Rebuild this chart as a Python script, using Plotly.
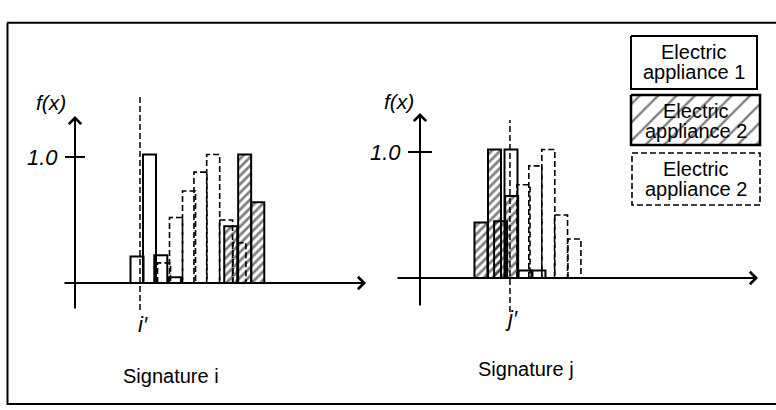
import plotly.graph_objects as go

W, H = 776, 410
FONT = "Liberation Sans, Arial, sans-serif"

# ---------------- data (bin centres in bin units, f(x) values) ----------------
# Signature i
sig_i_app1_x = [4.77, 5.73, 6.60, 7.65]
sig_i_app1_y = [0.21, 1.02, 0.22, 0.045]
sig_i_app2_x = [11.98, 13.05, 14.06]
sig_i_app2_y = [0.45, 1.02, 0.64]
sig_i_app3_x = [6.85, 7.77, 8.77, 9.65, 10.63, 11.62, 12.65]
sig_i_app3_y = [0.16, 0.52, 0.73, 0.88, 1.02, 0.50, 0.32]

# Signature j
sig_j_app1_x = [7.00, 8.08, 9.15]
sig_j_app1_y = [1.02, 0.06, 0.06]
sig_j_app2_x = [4.69, 5.73, 6.20, 7.05]
sig_j_app2_y = [0.44, 1.02, 0.45, 0.65]
sig_j_app3_x = [7.96, 8.87, 9.87, 10.85, 11.88]
sig_j_app3_y = [0.74, 0.89, 1.02, 0.50, 0.31]

i_prime = 5.0
j_prime = 6.92
tick_value = 1.0
tick_label = "1.0"
legend_labels = [("Electric", "appliance 1"), ("Electric", "appliance 2"), ("Electric", "appliance 2")]
panel_titles = ["Signature i", "Signature j"]

BW = 1.0  # bin width


def outline(xs, ys, w=BW):
    X, Y = [], []
    for x, y in zip(xs, ys):
        X += [x - w / 2, x - w / 2, x + w / 2, x + w / 2, None]
        Y += [0, y, y, 0, None]
    return X, Y


fig = go.Figure()

panels = [
    ("x", "y", sig_i_app1_x, sig_i_app1_y, sig_i_app2_x, sig_i_app2_y, sig_i_app3_x, sig_i_app3_y),
    ("x2", "y2", sig_j_app1_x, sig_j_app1_y, sig_j_app2_x, sig_j_app2_y, sig_j_app3_x, sig_j_app3_y),
]
for xa, ya, a1x, a1y, a2x, a2y, a3x, a3y in panels:
    dx, dy = outline(a3x, a3y)
    fig.add_trace(go.Scatter(x=dx, y=dy, mode="lines", xaxis=xa, yaxis=ya,
                             line=dict(color="black", width=1.6, dash="6px,3px"),
                             hoverinfo="skip", showlegend=False))
    fig.add_trace(go.Bar(x=a1x, y=a1y, width=BW, xaxis=xa, yaxis=ya,
                         marker=dict(color="rgba(0,0,0,0)", line=dict(color="black", width=2)),
                         showlegend=False))
    fig.add_trace(go.Bar(x=a2x, y=a2y, width=BW, xaxis=xa, yaxis=ya,
                         marker=dict(color="rgba(0,0,0,0)", line=dict(color="black", width=2),
                                     pattern=dict(shape="/", size=6, solidity=0.45,
                                                  fgcolor="black", bgcolor="rgba(0,0,0,0)")),
                         showlegend=False))

# ---------------- axis geometry ----------------
PXU = 13.0    # px per bin
PYU = 126.0   # px per unit f(x)
L_ORG = (75, 283)
R_ORG = (420, 278)

fig.update_layout(
    width=W, height=H, autosize=False,
    margin=dict(l=0, r=0, t=0, b=0),
    paper_bgcolor="white", plot_bgcolor="rgba(0,0,0,0)",
    barmode="overlay",
    xaxis=dict(domain=[0, 0.5], range=[(0 - L_ORG[0]) / PXU, (388 - L_ORG[0]) / PXU], visible=False),
    yaxis=dict(domain=[0, 1], range=[-(H - L_ORG[1]) / PYU, L_ORG[1] / PYU], visible=False),
    xaxis2=dict(domain=[0.5, 1], range=[(388 - R_ORG[0]) / PXU, (W - R_ORG[0]) / PXU], visible=False, anchor="y2"),
    yaxis2=dict(domain=[0, 1], range=[-(H - R_ORG[1]) / PYU, R_ORG[1] / PYU], visible=False, anchor="x2"),
    xaxis3=dict(domain=[0, 1], range=[0, W], visible=False, anchor="y3"),
    yaxis3=dict(domain=[0, 1], range=[H, 0], visible=False, anchor="x3"),
    showlegend=False,
)

ann = []
shapes = []


def arrow(xr, yr, x0, y0, x1, y1):
    ann.append(dict(xref=xr, yref=yr, axref=xr, ayref=yr, x=x1, y=y1, ax=x0, ay=y0,
                    text="", showarrow=True, arrowhead=4, arrowsize=1.2, arrowwidth=2,
                    arrowcolor="black", standoff=0, startstandoff=0))


def txt(xr, yr, x, y, s, size, xanchor="center", yanchor="middle"):
    ann.append(dict(xref=xr, yref=yr, x=x, y=y, text=s, showarrow=False,
                    font=dict(family=FONT, size=size, color="black"),
                    xanchor=xanchor, yanchor=yanchor))


# left panel axes
arrow("x", "y", 0, (L_ORG[1] - 310) / PYU, 0, (L_ORG[1] - 116) / PYU)
arrow("x", "y", (63 - L_ORG[0]) / PXU, 0, (366 - L_ORG[0]) / PXU, 0)
shapes.append(dict(type="line", xref="x", yref="y", x0=-0.77, x1=0.77, y0=tick_value, y1=tick_value,
                   line=dict(color="black", width=2)))
txt("x", "y", -1.15, tick_value, "<i>" + tick_label + "</i>", 22, xanchor="right")
txt("x", "y", -1.85, (L_ORG[1] - 102) / PYU, "<i>f(x)</i>", 21)
shapes.append(dict(type="line", xref="x", yref="y", x0=i_prime, x1=i_prime,
                   y0=(L_ORG[1] - 310) / PYU, y1=(L_ORG[1] - 95) / PYU,
                   line=dict(color="black", width=1.5, dash="6px,3px")))
txt("x", "y", i_prime + 0.2, (L_ORG[1] - 324) / PYU, "<i>i′</i>", 22)

# right panel axes
arrow("x2", "y2", 0, (R_ORG[1] - 307) / PYU, 0, (R_ORG[1] - 113) / PYU)
arrow("x2", "y2", (396 - R_ORG[0]) / PXU, 0, (758 - R_ORG[0]) / PXU, 0)
shapes.append(dict(type="line", xref="x2", yref="y2", x0=-0.92, x1=0.92, y0=tick_value, y1=tick_value,
                   line=dict(color="black", width=2)))
txt("x2", "y2", -1.3, tick_value, "<i>" + tick_label + "</i>", 22, xanchor="right")
txt("x2", "y2", -1.6, (R_ORG[1] - 101) / PYU, "<i>f(x)</i>", 21)
shapes.append(dict(type="line", xref="x2", yref="y2", x0=j_prime, x1=j_prime,
                   y0=(R_ORG[1] - 312) / PYU, y1=(R_ORG[1] - 120) / PYU,
                   line=dict(color="black", width=1.5, dash="6px,3px")))
txt("x2", "y2", j_prime + 0.1, (R_ORG[1] - 318) / PYU, "<i>j′</i>", 22)

# panel titles
txt("paper", "paper", 171 / W, 1 - 376 / H, panel_titles[0], 20)
txt("paper", "paper", 526 / W, 1 - 369 / H, panel_titles[1], 20)

# frame (left, top, bottom)
shapes.append(dict(type="line", xref="paper", yref="paper", x0=7.5 / W, x1=7.5 / W,
                   y0=1 - 405 / H, y1=1 - 22.7 / H, line=dict(color="black", width=2)))
shapes.append(dict(type="line", xref="paper", yref="paper", x0=7 / W, x1=1.0,
                   y0=1 - 22.7 / H, y1=1 - 22.7 / H, line=dict(color="black", width=2)))
shapes.append(dict(type="line", xref="paper", yref="paper", x0=7 / W, x1=1.0,
                   y0=1 - 404 / H, y1=1 - 404 / H, line=dict(color="black", width=2)))

# legend boxes (drawn on a pixel-like overlay axis)
boxes = [(631, 757, 36, 89), (631, 760, 95, 145), (632, 760, 153, 205)]
for k, (x0, x1, y0, y1) in enumerate(boxes):
    bx = [x0, x1, x1, x0, x0]
    by = [y0, y0, y1, y1, y0]
    if k == 1:
        fig.add_trace(go.Scatter(x=bx, y=by, xaxis="x3", yaxis="y3", mode="lines", fill="toself",
                                 fillcolor="rgba(0,0,0,0)",
                                 fillpattern=dict(shape="/", size=13, solidity=0.18,
                                                  fgcolor="black", bgcolor="rgba(0,0,0,0)"),
                                 line=dict(color="black", width=2.5),
                                 hoverinfo="skip", showlegend=False))
    else:
        fig.add_trace(go.Scatter(x=bx, y=by, xaxis="x3", yaxis="y3", mode="lines",
                                 line=dict(color="black", width=2 if k == 0 else 1.6,
                                           dash="solid" if k == 0 else "6px,3px"),
                                 hoverinfo="skip", showlegend=False))
    cx = (x0 + x1) / 2
    l1, l2 = legend_labels[k]
    txt("x3", "y3", cx, y0 + 16, l1, 20)
    txt("x3", "y3", cx, y0 + 36, l2, 20)

fig.update_layout(annotations=ann, shapes=shapes)
fig.write_html("out.html", config={"displayModeBar": False},
               post_script="document.body.style.margin='0';document.body.style.overflow='hidden';")
